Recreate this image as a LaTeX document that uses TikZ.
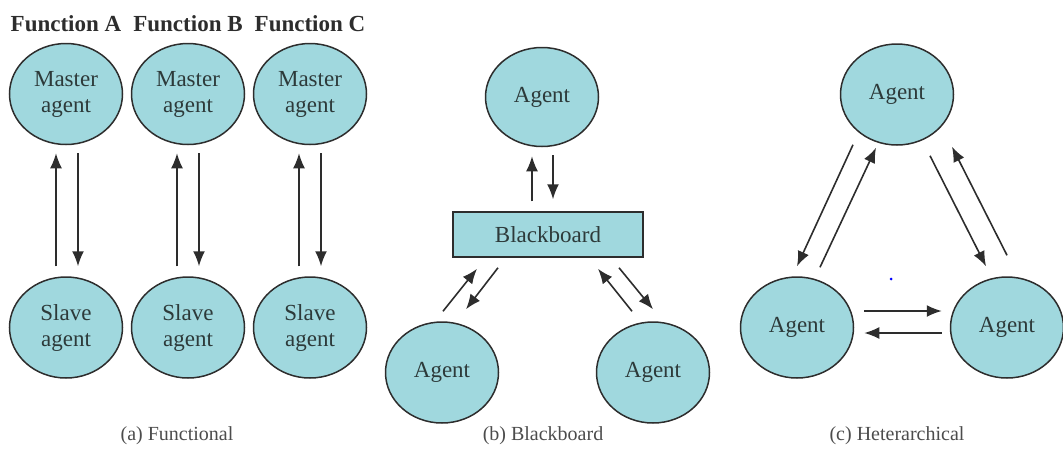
\documentclass[tikz,border=0pt]{standalone}
\usepackage{fontspec}
\setmainfont{Liberation Serif}
\usepackage{tikz}
\usetikzlibrary{shapes.geometric,arrows.meta}

\definecolor{agentfill}{RGB}{160,216,222}
\definecolor{agentline}{RGB}{45,45,45}
\definecolor{agenttext}{RGB}{45,58,58}

\tikzset{
  agent/.style={ellipse, draw=agentline, line width=1.5pt, fill=agentfill, text=agenttext,
    minimum width=113pt, minimum height=101pt, inner sep=0pt, align=center,
    font=\fontsize{23}{26}\selectfont},
  board/.style={rectangle, draw=agentline, line width=1.5pt, fill=agentfill, text=agenttext,
    minimum width=190pt, minimum height=45pt, font=\fontsize{23}{26}\selectfont},
  link/.style={draw=agentline, line width=1.6pt, -{Latex[length=15pt,width=12pt]}},
  title/.style={font=\bfseries\fontsize{23}{26}\selectfont, text=agentline},
  caption/.style={font=\fontsize{20}{24}\selectfont, text=agentline!85}
}

\begin{document}
\begin{tikzpicture}[x=1pt, y=-1pt]
  \useasboundingbox (0,0) rectangle (1063,459);

  % (a) functional
  \node[title] (fA) at (66,24) {Function A};
  \node[title] (fB) at (188,24) {Function B};
  \node[title] (fC) at (310,24) {Function C};
  \node[agent] (mA) at (66,94) {Master\\agent};
  \node[agent] (mB) at (188,94) {Master\\agent};
  \node[agent] (mC) at (310,94) {Master\\agent};
  \node[agent] (sA) at (66,327.5) {Slave\\agent};
  \node[agent] (sB) at (188,327.5) {Slave\\agent};
  \node[agent] (sC) at (310,327.5) {Slave\\agent};
  \draw[link] ([shift={(-10,-10)}]sA.north) -- ([shift={(-10,8)}]mA.south);
  \draw[link] ([shift={(12,8)}]mA.south) -- ([shift={(12,-10)}]sA.north);
  \draw[link] ([shift={(-11,-10)}]sB.north) -- ([shift={(-11,8)}]mB.south);
  \draw[link] ([shift={(11,8)}]mB.south) -- ([shift={(11,-10)}]sB.north);
  \draw[link] ([shift={(-11,-10)}]sC.north) -- ([shift={(-11,8)}]mC.south);
  \draw[link] ([shift={(11,8)}]mC.south) -- ([shift={(11,-10)}]sC.north);
  \node[caption] (capA) at (177,436) {(a) Functional};

  % (b) blackboard
  \node[agent, minimum height=99pt] (tb) at (542,97) {Agent};
  \node[board] (bb) at (548,234.5) {Blackboard};
  \node[agent] (bl) at (442,372.5) {Agent};
  \node[agent] (br) at (653,372.5) {Agent};
  \draw[link] ([shift={(-16,-10)}]bb.north) -- ([shift={(-10,9)}]tb.south);
  \draw[link] ([shift={(11,8)}]tb.south) -- ([shift={(5,-12)}]bb.north);
  \draw[link] ([shift={(1,-10)}]bl.north) -- ([shift={(-71,11)}]bb.south);
  \draw[link] ([shift={(-50,10)}]bb.south) -- ([shift={(24,-12)}]bl.north);
  \draw[link] ([shift={(-21,-10)}]br.north) -- ([shift={(50,11)}]bb.south);
  \draw[link] ([shift={(71,10)}]bb.south) -- ([shift={(0,-12)}]br.north);
  \node[caption] (capB) at (543,436) {(b) Blackboard};

  % (c) heterarchical
  \node[agent] (ct) at (897,94.5) {Agent};
  \node[agent] (cl) at (797,327.5) {Agent};
  \node[agent] (cr) at (1007,327.5) {Agent};
  \draw[link] ([shift={(-44,-1)}]ct.south) -- ([shift={(0,-10)}]cl.north);
  \draw[link] ([shift={(23,-9)}]cl.north) -- ([shift={(-21,2)}]ct.south);
  \draw[link] ([shift={(33,10)}]ct.south) -- ([shift={(-21,-10)}]cr.north);
  \draw[link] ([shift={(0,-21)}]cr.north) -- ([shift={(55,1)}]ct.south);
  \draw[link] ([shift={(10,-16.5)}]cl.east) -- ([shift={(-8,-16.5)}]cr.west);
  \draw[link] ([shift={(-8,5.5)}]cr.west) -- ([shift={(10,5.5)}]cl.east);
  \fill[blue] (891,279) circle (1.5);
  \node[caption] (capC) at (897,436) {(c) Heterarchical};
\end{tikzpicture}
\end{document}
